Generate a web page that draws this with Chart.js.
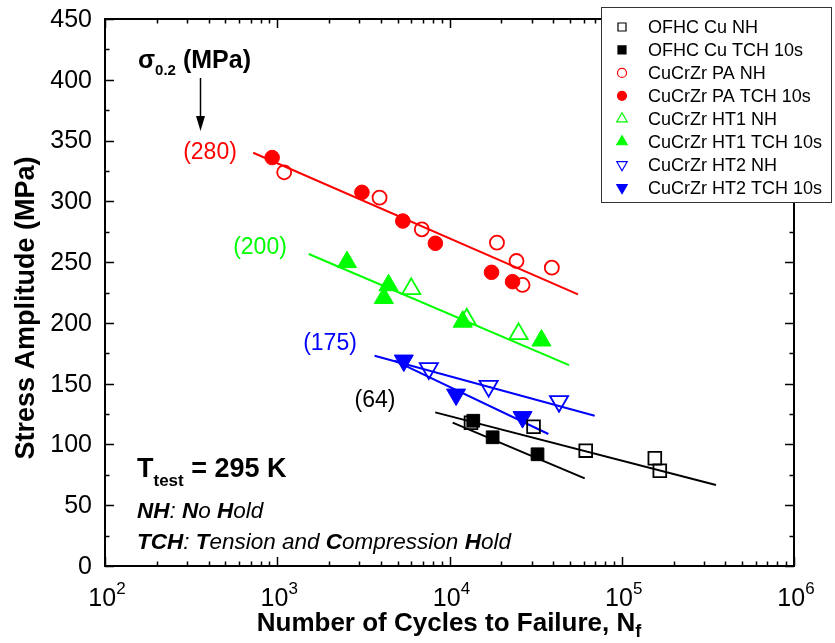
<!DOCTYPE html>
<html lang="en">
<head>
  <meta charset="UTF-8">
  <title>Stress Amplitude vs Cycles to Failure</title>
  <script src="https://cdn.jsdelivr.net/npm/chart.js"></script>
  <style>
    body {
      margin: 0;
      background-color: #ffffff;
    }
    #chart-container {
      width: 835px;
      height: 643px;
    }
  </style>
</head>
<body>
  <div id="chart-container">
    <canvas id="fatigueChart" width="835" height="643"></canvas>
  </div>

  <script>
    // Measured points (cycles to failure, stress amplitude in MPa)
    const cuNH_N = [13330, 30760, 61780, 155600, 166300];
    const cuNH_S = [117.9, 114.6, 94.9, 88.6, 78.4];
    const cuTCH_N = [13740, 17800, 32430];
    const cuTCH_S = [119.5, 105.9, 91.9];
    const paNH_N = [1097, 3926, 6905, 18860, 24490, 26550, 39270];
    const paNH_S = [323.9, 303.0, 277.0, 266.0, 250.9, 231.2, 245.4];
    const paTCH_N = [934, 3102, 5358, 8280, 17540, 23230];
    const paTCH_S = [336.0, 307.4, 283.8, 265.5, 241.6, 233.9];
    const ht1NH_N = [5997, 12590, 25180];
    const ht1NH_S = [228, 203, 191];
    const ht1TCH_N = [2541, 4426, 4158, 11930, 34200];
    const ht1TCH_S = [250, 231, 220.5, 201, 185.5];
    const ht2NH_N = [7586, 16870, 43250];
    const ht2NH_S = [162.5, 148, 135.5];
    const ht2TCH_N = [5430, 10920, 26550];
    const ht2TCH_S = [169, 141, 122.5];

    // Fit line end points
    const paFit_N = [725, 55720];
    const paFit_S = [340.0, 223.5];
    const ht1Fit_N = [1524, 49430];
    const ht1Fit_S = [256.7, 165.3];
    const ht2NHFit_N = [3673, 69660];
    const ht2NHFit_S = [173.0, 123.6];
    const ht2TCHFit_N = [4797, 37500];
    const ht2TCHFit_S = [168.9, 108.6];
    const cuNHFit_N = [8265, 352400];
    const cuNHFit_S = [126.4, 66.6];
    const cuTCHFit_N = [10430, 60950];
    const cuTCHFit_S = [117.9, 72.1];

    // Axis ticks
    const xDecades = [100, 1000, 10000, 100000, 1000000];
    const xExponents = ['2', '3', '4', '5', '6'];
    const yTicks = [0, 50, 100, 150, 200, 250, 300, 350, 400, 450];

    // Annotation labels (yield stress)
    const yieldLabels = ['(280)', '(200)', '(175)', '(64)'];

    const RED = '#ff0000';
    const GREEN = '#00ff00';
    const BLUE = '#0000ff';
    const BLACK = '#000000';

    function pts(xs, ys) {
      return xs.map(function(x, i) { return { x: x, y: ys[i] }; });
    }

    function markers(label, xs, ys, color, style, filled, radius, rotation) {
      return {
        label: label,
        data: pts(xs, ys),
        showLine: false,
        pointStyle: style,
        pointRadius: radius,
        pointHoverRadius: radius,
        rotation: rotation || 0,
        pointBorderColor: color,
        pointBackgroundColor: filled ? color : 'rgba(0,0,0,0)',
        pointBorderWidth: filled ? 1 : 1.8,
        isMarker: true,
        filled: filled,
        color: color
      };
    }

    function fitLine(xs, ys, color) {
      return {
        label: 'fit',
        data: pts(xs, ys),
        showLine: true,
        borderColor: color,
        borderWidth: 2,
        pointRadius: 0,
        fill: false
      };
    }

    const datasets = [
      markers('OFHC Cu NH', cuNH_N, cuNH_S, BLACK, 'rect', false, 9),
      markers('OFHC Cu TCH 10s', cuTCH_N, cuTCH_S, BLACK, 'rect', true, 9),
      markers('CuCrZr PA NH', paNH_N, paNH_S, RED, 'circle', false, 7),
      markers('CuCrZr PA TCH 10s', paTCH_N, paTCH_S, RED, 'circle', true, 7.3),
      markers('CuCrZr HT1 NH', ht1NH_N, ht1NH_S, GREEN, 'triangle', false, 10.5),
      markers('CuCrZr HT1 TCH 10s', ht1TCH_N, ht1TCH_S, GREEN, 'triangle', true, 11),
      markers('CuCrZr HT2 NH', ht2NH_N, ht2NH_S, BLUE, 'triangle', false, 10.5, 180),
      markers('CuCrZr HT2 TCH 10s', ht2TCH_N, ht2TCH_S, BLUE, 'triangle', true, 11, 180),
      fitLine(paFit_N, paFit_S, RED),
      fitLine(ht1Fit_N, ht1Fit_S, GREEN),
      fitLine(ht2NHFit_N, ht2NHFit_S, BLUE),
      fitLine(ht2TCHFit_N, ht2TCHFit_S, BLUE),
      fitLine(cuNHFit_N, cuNHFit_S, BLACK),
      fitLine(cuTCHFit_N, cuTCHFit_S, BLACK)
    ];

    // small legend symbol
    function legendSymbol(ctx, ds, x, y) {
      ctx.save();
      ctx.lineWidth = 1.2;
      ctx.strokeStyle = ds.color;
      ctx.fillStyle = ds.color;
      ctx.beginPath();
      if (ds.pointStyle === 'rect') {
        ctx.rect(x - 4, y - 4, 8, 8);
      } else if (ds.pointStyle === 'circle') {
        ctx.arc(x, y, 4.5, 0, Math.PI * 2);
      } else {
        const r = 6;
        const dir = ds.rotation === 180 ? -1 : 1;
        ctx.moveTo(x, y - dir * r);
        ctx.lineTo(x + r * 0.866, y + dir * r / 2);
        ctx.lineTo(x - r * 0.866, y + dir * r / 2);
        ctx.closePath();
      }
      if (ds.filled) ctx.fill();
      ctx.stroke();
      ctx.restore();
    }

    // text with a sub/superscript part
    function scriptText(ctx, parts, x, y, align) {
      let total = 0;
      parts.forEach(function(p) { ctx.font = p.font; total += ctx.measureText(p.text).width; });
      let cx = align === 'center' ? x - total / 2 : x;
      parts.forEach(function(p) {
        ctx.font = p.font;
        ctx.fillText(p.text, cx, y + (p.dy || 0));
        cx += ctx.measureText(p.text).width;
      });
    }

    const framePlugin = {
      id: 'frame',
      afterDraw: function(chart) {
        const ctx = chart.ctx;
        const a = chart.chartArea;
        const xs = chart.scales.x;
        const ys = chart.scales.y;
        ctx.save();
        ctx.strokeStyle = '#000';
        ctx.fillStyle = '#000';

        // frame
        ctx.lineWidth = 2;
        ctx.strokeRect(a.left, a.top, a.right - a.left, a.bottom - a.top);

        // inward ticks on all four sides
        ctx.lineWidth = 1.5;
        ctx.beginPath();
        for (let d = 0; d < xDecades.length; d++) {
          const px = Math.round(xs.getPixelForValue(xDecades[d])) + 0.5;
          ctx.moveTo(px, a.bottom); ctx.lineTo(px, a.bottom - 9);
          ctx.moveTo(px, a.top); ctx.lineTo(px, a.top + 9);
          if (d < xDecades.length - 1) {
            for (let k = 2; k < 10; k++) {
              const mx = Math.round(xs.getPixelForValue(k * xDecades[d])) + 0.5;
              ctx.moveTo(mx, a.bottom); ctx.lineTo(mx, a.bottom - 4.5);
              ctx.moveTo(mx, a.top); ctx.lineTo(mx, a.top + 4.5);
            }
          }
        }
        for (let v = 0; v <= 450; v += 25) {
          const py = Math.round(ys.getPixelForValue(v)) + 0.5;
          const len = v % 50 === 0 ? 9 : 4.5;
          ctx.moveTo(a.left, py); ctx.lineTo(a.left + len, py);
          ctx.moveTo(a.right, py); ctx.lineTo(a.right - len, py);
        }
        ctx.stroke();

        // y tick labels
        ctx.font = '25px "Liberation Sans", Arial, sans-serif';
        ctx.textAlign = 'right';
        ctx.textBaseline = 'middle';
        yTicks.forEach(function(v) {
          ctx.fillText(String(v), 92, ys.getPixelForValue(v) + 1);
        });

        // x tick labels 10^n
        ctx.textAlign = 'left';
        ctx.textBaseline = 'alphabetic';
        xDecades.forEach(function(v, i) {
          scriptText(ctx, [
            { text: '10', font: '25px "Liberation Sans", Arial, sans-serif' },
            { text: xExponents[i], font: '17px "Liberation Sans", Arial, sans-serif', dy: -12 }
          ], xs.getPixelForValue(v) + 2, 606, 'center');
        });

        // axis titles
        scriptText(ctx, [
          { text: 'Number of Cycles to Failure, N', font: 'bold 26px "Liberation Sans", Arial, sans-serif' },
          { text: 'f', font: 'bold 18px "Liberation Sans", Arial, sans-serif', dy: 6 }
        ], 449, 631, 'center');
        ctx.save();
        ctx.translate(34, 308);
        ctx.rotate(-Math.PI / 2);
        ctx.textAlign = 'center';
        ctx.font = 'bold 27px "Liberation Sans", Arial, sans-serif';
        ctx.fillText('Stress Amplitude (MPa)', 0, 0);
        ctx.restore();

        // sigma 0.2 label with arrow
        scriptText(ctx, [
          { text: 'σ', font: 'bold 25px "Liberation Sans", Arial, sans-serif' },
          { text: '0.2', font: 'bold 15px "Liberation Sans", Arial, sans-serif', dy: 7 },
          { text: ' (MPa)', font: 'bold 25px "Liberation Sans", Arial, sans-serif' }
        ], 138, 68, 'left');
        ctx.lineWidth = 1.5;
        ctx.beginPath();
        ctx.moveTo(200.5, 78); ctx.lineTo(200.5, 120);
        ctx.stroke();
        ctx.beginPath();
        ctx.moveTo(196, 116); ctx.lineTo(205, 116); ctx.lineTo(200.5, 131);
        ctx.closePath();
        ctx.fill();

        // yield stress labels
        ctx.font = '23px "Liberation Sans", Arial, sans-serif';
        ctx.textAlign = 'center';
        ctx.textBaseline = 'middle';
        ctx.fillStyle = RED; ctx.fillText(yieldLabels[0], 210, 153);
        ctx.fillStyle = GREEN; ctx.fillText(yieldLabels[1], 260, 248);
        ctx.fillStyle = BLUE; ctx.fillText(yieldLabels[2], 330, 344);
        ctx.fillStyle = BLACK; ctx.fillText(yieldLabels[3], 375, 401);

        // test temperature and abbreviations
        ctx.textAlign = 'left';
        ctx.textBaseline = 'alphabetic';
        scriptText(ctx, [
          { text: 'T', font: 'bold 27px "Liberation Sans", Arial, sans-serif' },
          { text: 'test', font: 'bold 17px "Liberation Sans", Arial, sans-serif', dy: 9 },
          { text: ' = 295 K', font: 'bold 27px "Liberation Sans", Arial, sans-serif' }
        ], 137, 477, 'left');
        const bi = 'italic bold 22.5px "Liberation Sans", Arial, sans-serif';
        const it = 'italic 22.5px "Liberation Sans", Arial, sans-serif';
        scriptText(ctx, [
          { text: 'NH', font: bi }, { text: ': ', font: it },
          { text: 'N', font: bi }, { text: 'o ', font: it },
          { text: 'H', font: bi }, { text: 'old', font: it }
        ], 137, 518, 'left');
        scriptText(ctx, [
          { text: 'TCH', font: bi }, { text: ': ', font: it },
          { text: 'T', font: bi }, { text: 'ension and ', font: it },
          { text: 'C', font: bi }, { text: 'ompression ', font: it },
          { text: 'H', font: bi }, { text: 'old', font: it }
        ], 137, 549, 'left');

        // legend box
        ctx.fillStyle = '#fff';
        ctx.fillRect(601.5, 7.5, 230, 195);
        ctx.strokeStyle = '#333';
        ctx.lineWidth = 1;
        ctx.strokeRect(601.5, 7.5, 230, 195);
        ctx.fillStyle = '#000';
        ctx.font = '18px "Liberation Sans", Arial, sans-serif';
        ctx.textBaseline = 'middle';
        let row = 0;
        chart.data.datasets.forEach(function(ds) {
          if (!ds.isMarker) return;
          const ly = 27 + row * 22.95;
          legendSymbol(ctx, ds, 622, ly);
          ctx.fillStyle = '#000';
          ctx.fillText(ds.label, 648, ly + 1);
          row++;
        });
        ctx.restore();
      }
    };

    const ctx = document.getElementById('fatigueChart').getContext('2d');
    new Chart(ctx, {
      type: 'scatter',
      data: { datasets: datasets },
      options: {
        responsive: false,
        animation: false,
        layout: { padding: { left: 0, top: 19, right: 41, bottom: 0 } },
        plugins: {
          legend: { display: false },
          tooltip: { enabled: false }
        },
        scales: {
          x: {
            type: 'logarithmic',
            min: 100,
            max: 1000000,
            grid: { display: false },
            border: { display: false },
            ticks: { display: false },
            afterFit: function(scale) { scale.height = 77; }
          },
          y: {
            min: 0,
            max: 450,
            grid: { display: false },
            border: { display: false },
            ticks: { display: false },
            afterFit: function(scale) { scale.width = 105; }
          }
        }
      },
      plugins: [framePlugin]
    });
  </script>
</body>
</html>
